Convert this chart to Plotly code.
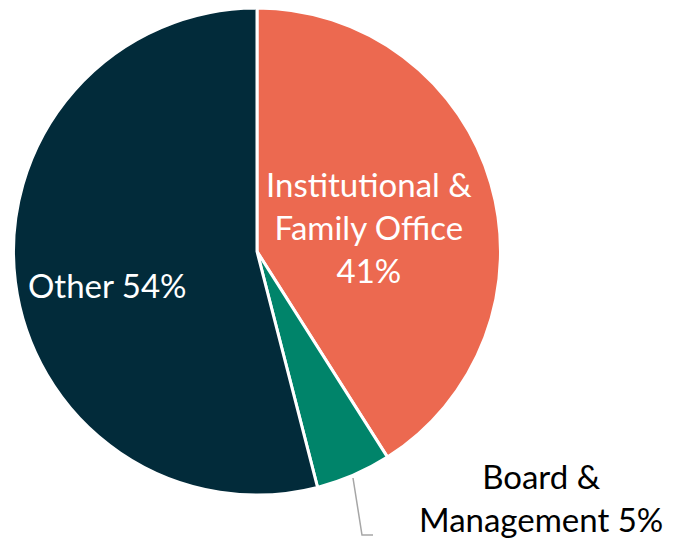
import plotly.graph_objects as go

labels = ["Institutional & Family Office", "Board & Management", "Other"]
values = [41, 5, 54]
colors = ["#EC6950", "#00846A", "#022B3A"]

W, H = 675, 538
OFF = 8  # page body margin offset
cx, cy, r = 257, 251.5, 243.5

def px(x):
    return (x - OFF) / W

def py(y):
    return min(1.0, 1 - (y - OFF) / H)

fig = go.Figure(go.Pie(
    labels=labels, values=values, sort=False, direction="clockwise", rotation=0,
    marker=dict(colors=colors, line=dict(color="white", width=3)),
    textinfo="none", hoverinfo="label+percent", showlegend=False,
    domain=dict(x=[px(cx - r), px(cx + r)], y=[py(cy + r), py(cy - r)]),
))

font_family = "Lato, 'Open Sans', sans-serif"
ann = [
    dict(text=f"Institutional &<br>Family Office<br>{values[0]}%", x=px(369), y=py(227), color="white"),
    dict(text=f"Other {values[2]}%", x=px(107), y=py(285), color="white"),
    dict(text=f"Board &<br>Management {values[1]}%", x=px(541), y=py(497), color="black"),
]
fig.update_layout(
    width=W, height=H, margin=dict(l=0, r=0, t=0, b=0),
    paper_bgcolor="white", plot_bgcolor="white",
    annotations=[dict(text=a["text"], x=a["x"], y=a["y"], xref="paper", yref="paper",
                      showarrow=False, xanchor="center", yanchor="middle",
                      font=dict(family=font_family, size=33, color=a["color"]))
                 for a in ann],
    shapes=[dict(type="path", xref="paper", yref="paper",
                 path=f"M {px(353)},{py(478)} L {px(362)},{py(535)} L {px(373)},{py(535)}",
                 line=dict(color="#A6A6A6", width=1.5))],
)
fig.write_html("out.html")
